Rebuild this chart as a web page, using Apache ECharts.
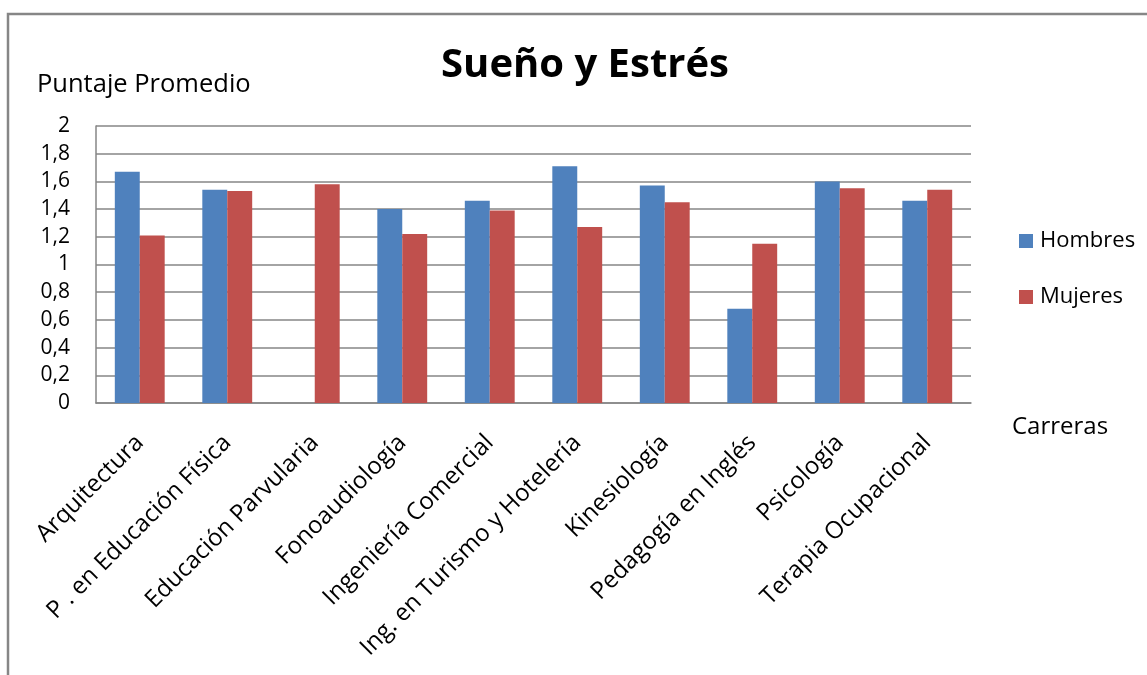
<!DOCTYPE html>
<html>
<head>
<meta charset="utf-8">
<script src="https://cdn.jsdelivr.net/npm/echarts@6/dist/echarts.min.js"></script>
<style>
  html, body { margin: 0; padding: 0; background: #ffffff; }
  #chart { width: 1147px; height: 675px; }
</style>
</head>
<body>
<div id="chart"></div>
<script>
// Carreras evaluadas
const carreras = [
  'Arquitectura',
  'P . en Educación Física',
  'Educación Parvularia',
  'Fonoaudiología',
  'Ingeniería Comercial',
  'Ing. en Turismo y Hotelería',
  'Kinesiología',
  'Pedagogía en Inglés',
  'Psicología',
  'Terapia Ocupacional'
];

// Puntaje promedio de sueño y estrés por sexo
const hombres = [1.67, 1.54, null, 1.40, 1.46, 1.71, 1.57, 0.68, 1.60, 1.46];
const mujeres = [1.21, 1.53, 1.58, 1.22, 1.39, 1.27, 1.45, 1.15, 1.55, 1.54];

// Marcas del eje vertical
const yTicks = [0, 0.2, 0.4, 0.6, 0.8, 1, 1.2, 1.4, 1.6, 1.8, 2];

const FONT = 'Open Sans';
const chart = echarts.init(document.getElementById('chart'));

chart.setOption({
  animation: false,
  backgroundColor: '#ffffff',
  textStyle: { fontFamily: FONT },
  color: ['#4F81BD', '#C0504D'],
  title: [
    {
      text: 'Sueño y Estrés',
      left: 580, top: 41,
      textAlign: 'center',
      textStyle: { fontFamily: FONT, fontSize: 40, fontWeight: 'bold', color: '#000' }
    },
    {
      text: 'Puntaje Promedio',
      left: 32, top: 67,
      textStyle: { fontFamily: FONT, fontSize: 25.5, fontWeight: 'normal', color: '#000' }
    },
    {
      text: 'Carreras',
      left: 1007, top: 410,
      textStyle: { fontFamily: FONT, fontSize: 24, fontWeight: 'normal', color: '#000' }
    }
  ],
  legend: {
    orient: 'vertical',
    left: 1019, top: 230,
    padding: 0,
    itemWidth: 14, itemHeight: 14,
    itemGap: 34,
    icon: 'rect',
    textStyle: { fontFamily: FONT, fontSize: 22, color: '#000', padding: [0, 0, 0, 2] },
    data: ['Hombres', 'Mujeres']
  },
  grid: { left: 96, right: 176, top: 126, bottom: 272, containLabel: false },
  xAxis: {
    type: 'category',
    data: carreras,
    axisLine: { show: true, lineStyle: { color: '#868686', width: 1.5 } },
    axisTick: { show: false },
    axisLabel: {
      interval: 0,
      rotate: 45,
      margin: 36,
      fontFamily: FONT, fontSize: 24, color: '#000'
    }
  },
  yAxis: {
    type: 'value',
    min: yTicks[0],
    max: yTicks[yTicks.length - 1],
    interval: 0.2,
    axisLine: { show: true, lineStyle: { color: '#868686', width: 1.5 } },
    axisTick: { show: false },
    splitLine: { show: true, lineStyle: { color: '#868686', width: 1.5 } },
    axisLabel: {
      margin: 26,
      fontFamily: FONT, fontSize: 21, color: '#000',
      formatter: v => String(Math.round(v * 10) / 10).replace('.', ',')
    }
  },
  series: [
    { name: 'Hombres', type: 'bar', data: hombres, barGap: '0%', barCategoryGap: '43%' },
    { name: 'Mujeres', type: 'bar', data: mujeres, barGap: '0%', barCategoryGap: '43%' }
  ],
  graphic: [
    {
      type: 'rect',
      shape: { x: 8, y: 14, width: 1200, height: 720 },
      style: { fill: 'none', stroke: '#868686', lineWidth: 2.5 },
      silent: true,
      z: -1
    }
  ]
});
</script>
</body>
</html>
